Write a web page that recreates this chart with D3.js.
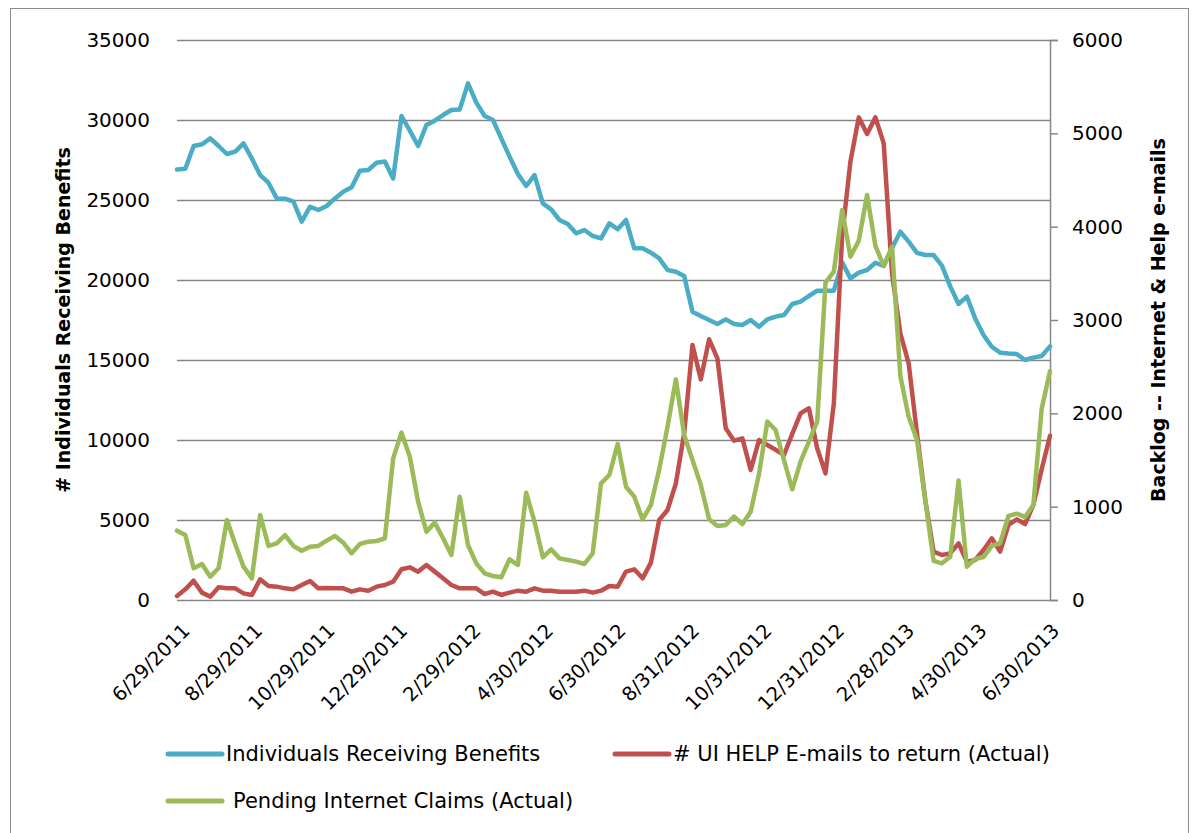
<!DOCTYPE html>
<html>
<head>
<meta charset="utf-8">
<script src="https://cdn.jsdelivr.net/npm/d3@7"></script>
<style>
  html, body { margin: 0; padding: 0; background: #fff; }
  svg { display: block; }
  text { font-family: "DejaVu Sans", sans-serif; fill: #000; }
</style>
</head>
<body>
<svg id="chart" width="1193" height="833"></svg>
<script>
// ---- data ----
const startDate = "6/29/2011";      // first weekly observation
const endDate = "7/3/2013";         // end of the date axis
const xTickLabels = ["6/29/2011","8/29/2011","10/29/2011","12/29/2011","2/29/2012","4/30/2012",
  "6/30/2012","8/31/2012","10/31/2012","12/31/2012","2/28/2013","4/30/2013","6/30/2013"];
const leftTicks = [0,5000,10000,15000,20000,25000,30000,35000];
const rightTicks = [0,1000,2000,3000,4000,5000,6000];

const seriesNames = ["Individuals Receiving Benefits", "# UI HELP E-mails to return (Actual)", "Pending Internet Claims (Actual)"];

const individuals = [26900,26950,28375,28480,28850,28375,27875,28020,28540,27600,
  26560,26080,25100,25080,24900,23650,24580,24375,24625,25100,
  25520,25790,26830,26875,27330,27400,26350,30250,29330,28375,
  29690,29960,30310,30625,30650,32290,31085,30250,30000,28850,
  27710,26625,25875,26560,24790,24415,23750,23500,22915,23125,
  22750,22600,23540,23170,23750,21980,21980,21710,21350,20625,
  20520,20250,18020,17750,17500,17250,17540,17250,17190,17500,
  17080,17540,17710,17810,18500,18645,19000,19330,19330,19330,
  21100,20100,20460,20625,21080,20875,22000,23020,22400,21700,
  21560,21560,20900,19600,18500,18960,17600,16560,15830,15460,
  15400,15375,15000,15150,15250,15850];

const emails = [43,114,207,79,36,136,125,125,71,54,
  221,150,143,125,114,161,204,125,129,125,
  125,89,114,100,143,161,196,329,350,304,
  375,304,232,161,125,125,125,64,89,54,
  79,100,89,125,100,100,89,89,89,100,
  79,100,150,143,304,329,232,400,857,964,
  1250,1786,2732,2364,2793,2589,1839,1707,1732,1393,
  1714,1661,1610,1554,1780,2000,2054,1625,1357,2107,
  3900,4700,5171,4993,5171,4893,3500,2857,2536,1786,
  1071,518,482,500,607,411,429,536,661,518,
  804,864,814,1018,1400,1760];

const pending = [743,696,340,386,250,340,857,600,357,232,
  911,579,607,696,579,528,571,579,636,686,
  614,500,600,625,632,661,1518,1793,1535,1053,
  732,829,661,482,1107,589,393,286,257,243,
  436,375,1150,839,457,543,446,429,411,386,
  500,1250,1339,1671,1214,1107,864,1018,1400,1857,
  2364,1768,1500,1232,864,793,804,893,814,946,
  1350,1911,1821,1500,1186,1482,1696,1911,3400,3518,
  4179,3679,3850,4339,3793,3579,3786,2400,1964,1714,
  1071,420,393,464,1280,357,440,460,579,610,
  900,925,890,1018,2050,2450];

const colors = ["#4BACC6", "#C0504D", "#9BBB59"];

// ---- layout ----
const svg = d3.select("#chart");
const parse = d3.timeParse("%m/%d/%Y");
const x0 = 177, x1 = 1050, yTop = 40, yBot = 600;

const start = parse(startDate);
const dates = individuals.map((_, i) => d3.timeDay.offset(start, 7 * i));

const x = d3.scaleTime().domain([start, parse(endDate)]).range([x0, x1]);
const yL = d3.scaleLinear().domain([0, 35000]).range([yBot, yTop]);
const yR = d3.scaleLinear().domain([0, 6000]).range([yBot, yTop]);

// outer frame
svg.append("rect").attr("x", 10.5).attr("y", 8.5).attr("width", 1178).attr("height", 840)
  .attr("fill", "none").attr("stroke", "#8c8c8c").attr("stroke-width", 1);

// gridlines
svg.append("g").selectAll("line").data(leftTicks).join("line")
  .attr("x1", x0).attr("x2", x1)
  .attr("y1", d => Math.round(yL(d)) + 0.5).attr("y2", d => Math.round(yL(d)) + 0.5)
  .attr("stroke", "#868686").attr("stroke-width", 1.5);

// left tick labels
svg.append("g").selectAll("text").data(leftTicks).join("text")
  .attr("x", 150).attr("y", d => yL(d))
  .attr("text-anchor", "end").attr("dominant-baseline", "central")
  .style("font-size", "20px").text(d => d);

// right axis
const rAxis = d3.axisRight(yR).tickValues(rightTicks).tickSize(8).tickPadding(14).tickFormat(d => d);
const gR = svg.append("g").attr("transform", `translate(${x1},0)`).call(rAxis);
gR.select(".domain").attr("stroke", "#868686").attr("stroke-width", 1.5);
gR.selectAll(".tick line").attr("stroke", "#868686").attr("stroke-width", 1.5);
gR.selectAll(".tick text").style("font-size", "20px").attr("font-family", "DejaVu Sans").attr("fill", "#000");

// x tick labels
const xt = svg.append("g");
xTickLabels.forEach(lbl => {
  const px = x(parse(lbl)) + 4, py = 622;
  xt.append("text")
    .attr("transform", `translate(${px},${py}) rotate(-45)`)
    .attr("text-anchor", "end").attr("dy", "0.73em")
    .style("font-size", "19.5px").text(lbl);
});

// lines
const series = [
  { vals: individuals, y: yL },
  { vals: emails, y: yR },
  { vals: pending, y: yR }
];
series.forEach((s, k) => {
  const line = d3.line().x((d, i) => x(dates[i])).y(d => s.y(d));
  svg.append("path").datum(s.vals).attr("d", line)
    .attr("fill", "none").attr("stroke", colors[k]).attr("stroke-width", 4.5)
    .attr("stroke-linejoin", "round").attr("stroke-linecap", "round");
});

// axis titles
svg.append("text").attr("transform", "translate(63,320) rotate(-90)")
  .attr("text-anchor", "middle").attr("dominant-baseline", "central")
  .style("font-size", "19px").style("font-weight", "bold").text("# Individuals Receiving Benefits");
svg.append("text").attr("transform", "translate(1158,320) rotate(-90)")
  .attr("text-anchor", "middle").attr("dominant-baseline", "central")
  .style("font-size", "19px").style("font-weight", "bold").text("Backlog -- Internet & Help e-mails");

// legend
const legendItems = [
  { name: seriesNames[0], color: colors[0], lx: 168, ly: 754, tx: 226 },
  { name: seriesNames[1], color: colors[1], lx: 615, ly: 754, tx: 673 },
  { name: seriesNames[2], color: colors[2], lx: 168, ly: 801, tx: 233 }
];
const lg = svg.append("g");
legendItems.forEach(it => {
  lg.append("line").attr("x1", it.lx).attr("x2", it.lx + 54).attr("y1", it.ly).attr("y2", it.ly)
    .attr("stroke", it.color).attr("stroke-width", 5).attr("stroke-linecap", "round");
  lg.append("text").attr("x", it.tx).attr("y", it.ly).attr("dominant-baseline", "central")
    .style("font-size", "21px").text(it.name);
});
</script>
</body>
</html>
